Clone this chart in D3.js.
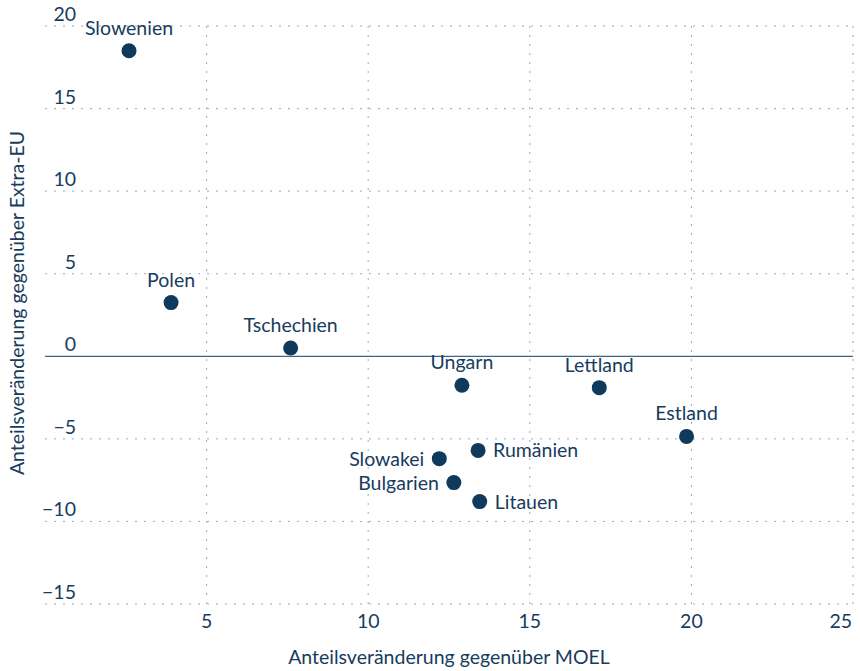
<!DOCTYPE html>
<html>
<head>
<meta charset="utf-8">
<script src="https://cdn.jsdelivr.net/npm/d3@7"></script>
<style>
  body { margin: 0; background: #fff; }
  text { font-family: "Source Sans Pro", Lato, "Noto Sans", sans-serif; fill: #173c5e; }
</style>
</head>
<body>
<div id="chart"></div>
<script>
// Daten
const countries = ['Slowenien', 'Polen', 'Tschechien', 'Ungarn', 'Lettland', 'Estland', 'Slowakei', 'Rumänien', 'Bulgarien', 'Litauen'];
const moel = [2.6, 3.9, 7.6, 12.9, 17.15, 19.85, 12.2, 13.4, 12.65, 13.45];
const extraEu = [18.5, 3.25, 0.5, -1.75, -1.9, -4.85, -6.2, -5.7, -7.65, -8.8];
const labelPos = ['top', 'top', 'top', 'top', 'top', 'top', 'left', 'right', 'left', 'right'];
const xTicks = [5, 10, 15, 20, 25];
const yTicks = [-15, -10, -5, 0, 5, 10, 15, 20];

const width = 860;
const height = 671;
const margin = { top: 26, right: 7, bottom: 67, left: 45 };
const dotColor = '#0f3a5c';
const gridColor = '#93adc4';
const fontSize = 19.5;

const svg = d3.select('#chart').append('svg')
  .attr('width', width)
  .attr('height', height);

const x = d3.scaleLinear().domain([0, 25]).range([margin.left, width - margin.right]);
const y = d3.scaleLinear().domain([-15, 20]).range([height - margin.bottom, margin.top]);

// Gitterlinien vertikal
svg.append('g').selectAll('line')
  .data(xTicks)
  .enter()
  .append('line')
  .attr('x1', (d) => x(d))
  .attr('x2', (d) => x(d))
  .attr('y1', y(20))
  .attr('y2', y(-15))
  .attr('stroke', gridColor)
  .attr('stroke-width', 1)
  .attr('stroke-dasharray', '2,7');

// Gitterlinien horizontal
svg.append('g').selectAll('line')
  .data(yTicks)
  .enter()
  .append('line')
  .attr('x1', x(0))
  .attr('x2', x(25))
  .attr('y1', (d) => y(d))
  .attr('y2', (d) => y(d))
  .attr('stroke', (d) => (d === 0 ? '#3d6486' : gridColor))
  .attr('stroke-width', (d) => (d === 0 ? 1.3 : 1))
  .attr('stroke-dasharray', (d) => (d === 0 ? null : '2,7'));

// Achsenbeschriftung y
svg.append('g').selectAll('text')
  .data(yTicks)
  .enter()
  .append('text')
  .attr('x', 76)
  .attr('y', (d) => y(d) - 5)
  .attr('text-anchor', 'end')
  .attr('font-size', fontSize)
  .text((d) => (d < 0 ? '\u2212' + Math.abs(d) : d));

// Achsenbeschriftung x
svg.append('g').selectAll('text')
  .data(xTicks)
  .enter()
  .append('text')
  .attr('x', (d) => (d === 25 ? x(d) - 1 : x(d)))
  .attr('y', y(-15) + 24)
  .attr('text-anchor', (d) => (d === 25 ? 'end' : 'middle'))
  .attr('font-size', fontSize)
  .text((d) => d);

// Achsentitel
svg.append('text')
  .attr('x', x(12.5))
  .attr('y', 664)
  .attr('text-anchor', 'middle')
  .attr('font-size', fontSize)
  .text('Anteilsveränderung gegenüber MOEL');

svg.append('text')
  .attr('transform', `translate(24, ${y(2.5) - 12}) rotate(-90)`)
  .attr('text-anchor', 'middle')
  .attr('font-size', fontSize)
  .text('Anteilsveränderung gegenüber Extra-EU');

// Punkte
const points = countries.map((c, i) => ({ name: c, mx: moel[i], ey: extraEu[i], pos: labelPos[i] }));

svg.append('g').selectAll('circle')
  .data(points)
  .enter()
  .append('circle')
  .attr('cx', (d) => x(d.mx))
  .attr('cy', (d) => y(d.ey))
  .attr('r', 7.5)
  .attr('fill', dotColor);

svg.append('g').selectAll('text')
  .data(points)
  .enter()
  .append('text')
  .attr('font-size', fontSize)
  .attr('x', (d) => {
    if (d.pos === 'left') return x(d.mx) - 15;
    if (d.pos === 'right') return x(d.mx) + 15;
    return x(d.mx);
  })
  .attr('y', (d) => (d.pos === 'top' ? y(d.ey) - 16 : y(d.ey) + 7))
  .attr('text-anchor', (d) => {
    if (d.pos === 'left') return 'end';
    if (d.pos === 'right') return 'start';
    return 'middle';
  })
  .text((d) => d.name);
</script>
</body>
</html>
